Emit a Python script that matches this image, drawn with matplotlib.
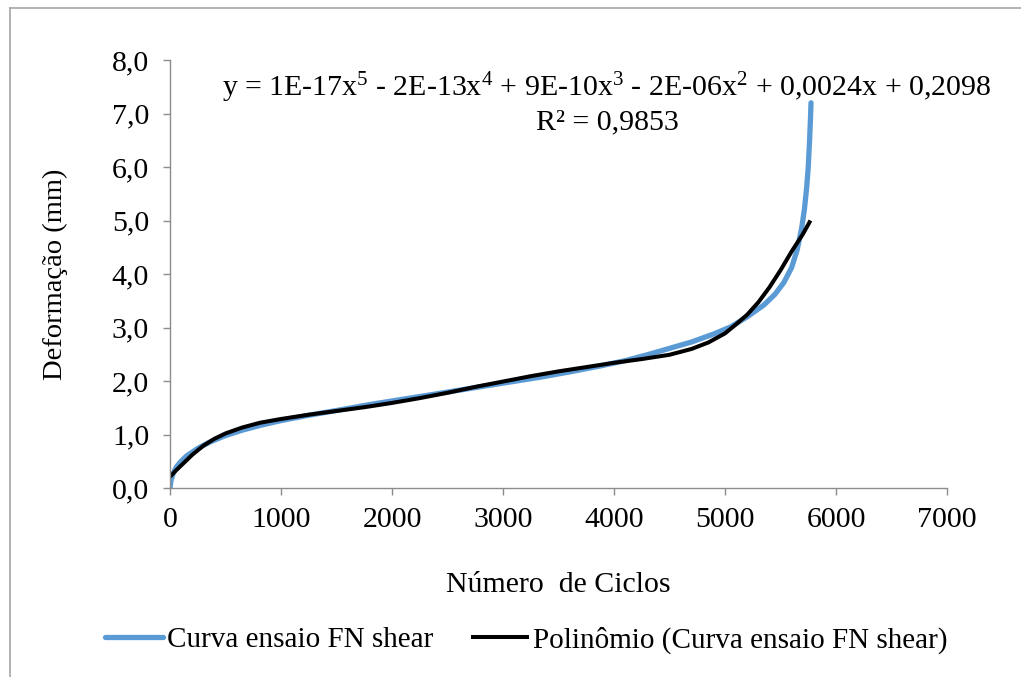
import matplotlib
matplotlib.use("Agg")
import matplotlib.pyplot as plt
from matplotlib.lines import Line2D
from matplotlib.ticker import FuncFormatter

plt.rcParams['font.family'] = ['Liberation Serif', 'DejaVu Serif']
plt.rcParams['mathtext.fontset'] = 'custom'
plt.rcParams['mathtext.rm'] = 'Liberation Serif'
plt.rcParams['mathtext.it'] = 'Liberation Serif:italic'

# Ensaio de deformação permanente (flow number, shear)
ciclos_ensaio = [0, 10, 30, 60, 100, 150, 250, 360, 500, 650, 811, 1000, 1250,
                 1532, 1800, 2100, 2432, 2730, 3000, 3333, 3600, 3874, 4100,
                 4300, 4500, 4700, 4900, 5050, 5200, 5350, 5450, 5530, 5600,
                 5650, 5690, 5715, 5735, 5750, 5762, 5770, 5775]
deform_ensaio = [0.0, 0.15, 0.28, 0.40, 0.50, 0.60, 0.74, 0.86, 0.98, 1.08,
                 1.17, 1.26, 1.36, 1.46, 1.56, 1.66, 1.77, 1.87, 1.96, 2.07,
                 2.17, 2.28, 2.38, 2.49, 2.61, 2.73, 2.88, 3.01, 3.20, 3.42,
                 3.62, 3.84, 4.12, 4.45, 4.85, 5.20, 5.60, 6.00, 6.50, 6.90,
                 7.20]

# Linha de tendência polinomial de 5ª ordem
ciclos_poli = [0, 50, 100, 200, 300, 400, 500, 650, 811, 1000, 1250, 1500,
               1750, 2000, 2250, 2500, 2750, 3000, 3250, 3500, 3750, 4000,
               4250, 4500, 4700, 4850, 5000, 5100, 5200, 5300, 5400, 5500,
               5600, 5700, 5770]
deform_poli = [0.21, 0.32, 0.42, 0.62, 0.79, 0.92, 1.02, 1.13, 1.22, 1.29,
               1.37, 1.44, 1.51, 1.59, 1.68, 1.78, 1.89, 1.99, 2.09, 2.18,
               2.26, 2.34, 2.41, 2.49, 2.60, 2.72, 2.89, 3.06, 3.24, 3.47,
               3.75, 4.07, 4.42, 4.74, 5.00]

x_ticks = [0, 1000, 2000, 3000, 4000, 5000, 6000, 7000]
y_ticks = [0, 1, 2, 3, 4, 5, 6, 7, 8]

equacao = ("y = 1E-17x$^{5}$ - 2E-13x$^{4}$ + 9E-10x$^{3}$ - 2E-06x$^{2}$"
           " + 0,0024x + 0,2098")
r2 = "R² = 0,9853"

W, H = 1021, 677
FS = 21.5
fig = plt.figure(figsize=(W / 100, H / 100), dpi=100)
ax = fig.add_axes([170 / W, 1 - 488 / H, (947 - 170) / W, (488 - 60) / H])

ax.plot(ciclos_ensaio, deform_ensaio, color='#5B9BD5', lw=3.8,
        solid_capstyle='round', solid_joinstyle='round',
        label='Curva ensaio FN shear')
ax.plot(ciclos_poli, deform_poli, color='black', lw=2.9,
        solid_capstyle='butt', solid_joinstyle='round',
        label='Polinômio (Curva ensaio FN shear)')

ax.set_xlim(0, 7000)
ax.set_ylim(0, 8)
ax.set_xticks(x_ticks)
ax.set_yticks(y_ticks)
ax.yaxis.set_major_formatter(FuncFormatter(lambda v, p: f"{v:.1f}".replace('.', ',')))

axis_gray = '#8c8c8c'
for side in ('top', 'right'):
    ax.spines[side].set_visible(False)
for side in ('left', 'bottom'):
    ax.spines[side].set_color(axis_gray)
    ax.spines[side].set_linewidth(1.0)
ax.tick_params(axis='both', direction='out', length=5, width=1.0,
               color=axis_gray, labelsize=FS, labelcolor='black')
ax.tick_params(axis='x', pad=9)
ax.tick_params(axis='y', pad=10)

ax.set_xlabel('Número  de Ciclos', fontsize=FS)
ax.set_ylabel('Deformação (mm)', fontsize=20.5)
ax.xaxis.set_label_coords(0.5, -0.197)
ax.yaxis.set_label_coords(-0.131, 0.5)

fig.text(607 / W, 1 - 88 / H, equacao, fontsize=FS, ha='center', va='center')
fig.text(607 / W, 1 - 122 / H, r2, fontsize=FS, ha='center', va='center')

fig.legend(loc='center', bbox_to_anchor=(526 / W, 1 - 640 / H), ncol=2,
           frameon=False, fontsize=21, handlelength=2.0, handletextpad=0.12,
           columnspacing=1.3)

# Moldura do gráfico
frame_gray = '#a6a6a6'
fig.add_artist(Line2D([10 / W, 1.0], [1 - 8 / H, 1 - 8 / H], color=frame_gray,
                      lw=1.2, transform=fig.transFigure))
fig.add_artist(Line2D([10 / W, 10 / W], [1 - 8 / H, 0.0], color=frame_gray,
                      lw=1.2, transform=fig.transFigure))

fig.savefig('out.png', dpi=100)
